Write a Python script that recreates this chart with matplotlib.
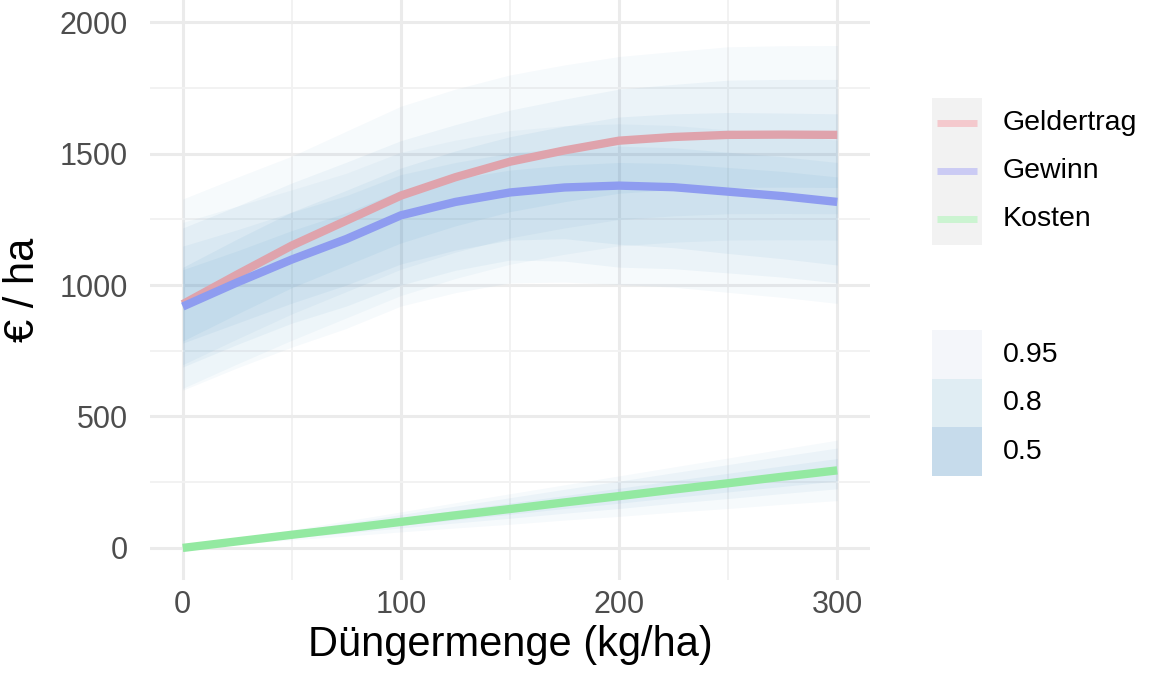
import matplotlib.pyplot as plt
from matplotlib.patches import Rectangle

plt.rcParams['font.family'] = ['Liberation Sans', 'DejaVu Sans']

# fertiliser amount (kg/ha)
duenger = [0, 25, 50, 75, 100, 125, 150, 175, 200, 225, 250, 275, 300]

# median lines (EUR / ha)
geldertrag = [927, 1040, 1150, 1245, 1340, 1410, 1469, 1512, 1549, 1563, 1571, 1572, 1571]
gewinn     = [918, 1010, 1097, 1175, 1265, 1316, 1352, 1371, 1378, 1372, 1355, 1338, 1316]
kosten     = [0, 25, 50, 74, 99, 124, 148, 173, 197, 222, 246, 271, 295]

# interval bounds (0.95 / 0.8 / 0.5)
geld_95_lo = [607, 700, 790, 875, 960, 1025, 1079, 1117, 1149, 1163, 1171, 1172, 1171]
geld_95_hi = [1327, 1410, 1490, 1585, 1680, 1745, 1799, 1837, 1869, 1888, 1906, 1910, 1911]
geld_80_lo = [697, 795, 890, 975, 1060, 1125, 1179, 1217, 1249, 1263, 1271, 1272, 1271]
geld_80_hi = [1217, 1300, 1388, 1467, 1549, 1610, 1665, 1707, 1745, 1763, 1779, 1782, 1782]
geld_50_lo = [787, 890, 990, 1075, 1160, 1225, 1279, 1317, 1349, 1363, 1371, 1372, 1371]
geld_50_hi = [1067, 1175, 1278, 1360, 1445, 1510, 1564, 1604, 1639, 1651, 1656, 1654, 1651]

gew_95_lo = [600, 685, 764, 835, 920, 971, 1008, 1011, 1002, 992, 972, 953, 930]
gew_95_hi = [1238, 1300, 1362, 1425, 1505, 1551, 1587, 1606, 1613, 1607, 1590, 1573, 1551]
gew_80_lo = [688, 774, 855, 920, 1000, 1056, 1095, 1091, 1068, 1062, 1046, 1030, 1008]
gew_80_hi = [1148, 1210, 1277, 1340, 1420, 1466, 1502, 1521, 1528, 1522, 1505, 1488, 1466]
gew_50_lo = [779, 855, 931, 1000, 1080, 1133, 1171, 1176, 1155, 1142, 1120, 1100, 1076]
gew_50_hi = [1058, 1130, 1207, 1275, 1360, 1404, 1437, 1456, 1466, 1462, 1447, 1432, 1411]

kost_95_lo = [0, 15, 31, 45, 61, 76, 90, 106, 120, 136, 150, 166, 180]
kost_95_hi = [0, 35, 69, 103, 137, 172, 206, 240, 274, 308, 342, 376, 410]
kost_80_lo = [0, 19, 38, 57, 76, 95, 113, 132, 150, 170, 188, 207, 225]
kost_80_hi = [0, 32, 64, 95, 127, 159, 191, 223, 254, 286, 317, 349, 380]
kost_50_lo = [0, 22, 43, 64, 86, 107, 128, 150, 170, 192, 213, 234, 255]
kost_50_hi = [0, 29, 58, 85, 114, 143, 171, 199, 227, 256, 284, 312, 340]

serien = ['Geldertrag', 'Gewinn', 'Kosten']
linien_farben = ['#dfa3ac', '#8e9cf0', '#93e9a1']
legende_farben = ['#f4c9cd', '#cbcbf4', '#cbf4d1']
intervalle = ['0.95', '0.8', '0.5']
intervall_alpha = [0.045, 0.06, 0.068]
intervall_legende = ['#f4f6fa', '#e0edf3', '#c6dbeb']

baender = [
    [(geld_95_lo, geld_95_hi), (geld_80_lo, geld_80_hi), (geld_50_lo, geld_50_hi)],
    [(gew_95_lo, gew_95_hi), (gew_80_lo, gew_80_hi), (gew_50_lo, gew_50_hi)],
    [(kost_95_lo, kost_95_hi), (kost_80_lo, kost_80_hi), (kost_50_lo, kost_50_hi)],
]
mitten = [geldertrag, gewinn, kosten]

W, H = 1165, 678
fig = plt.figure(figsize=(W / 100, H / 100), dpi=100)
ax = fig.add_axes([150 / W, 1 - 580 / H, 720 / W, 580 / H])

for serie in baender:
    for (lo, hi), a in zip(serie, intervall_alpha):
        ax.fill_between(duenger, lo, hi, color='#3b8cc2', alpha=a, lw=0, zorder=2)

for y, c in zip(mitten, linien_farben):
    ax.plot(duenger, y, color=c, lw=6, solid_capstyle='butt', zorder=3)

ax.set_xlim(-15, 315)
ax.set_ylim(-122, 2084)
ax.set_xticks([0, 100, 200, 300])
ax.set_xticks([50, 150, 250], minor=True)
ax.set_yticks([0, 500, 1000, 1500, 2000])
ax.set_yticks([250, 750, 1250, 1750], minor=True)
ax.grid(which='major', color='#ebebeb', lw=2.2, zorder=0)
ax.grid(which='minor', color='#f2f2f2', lw=1.4, zorder=0)
ax.set_axisbelow(True)
for s in ax.spines.values():
    s.set_visible(False)
ax.tick_params(which='both', length=0)
ax.tick_params(axis='y', labelsize=22, labelcolor='#4d4d4d', pad=16)
ax.tick_params(axis='x', labelsize=22, labelcolor='#4d4d4d', pad=7)
ax.set_xlabel('Düngermenge (kg/ha)', fontsize=30, labelpad=4)
ax.set_ylabel('€ / ha', fontsize=30, labelpad=12)

# legends drawn in pixel coordinates
lg = fig.add_axes([0, 0, 1, 1], zorder=5)
lg.set_xlim(0, W)
lg.set_ylim(H, 0)
lg.axis('off')

lg.add_patch(Rectangle((932, 98), 50, 147, color='#f2f2f2', lw=0))
for i, (name, c) in enumerate(zip(serien, legende_farben)):
    y = 123 + i * 48
    lg.plot([937, 977], [y, y], color=c, lw=5, solid_capstyle='butt')
    lg.text(1003, y, name, fontsize=20.5, va='center', ha='left')

for i, (name, c) in enumerate(zip(intervalle, intervall_legende)):
    y0 = 330 + i * 48.5
    lg.add_patch(Rectangle((932, y0), 50, 48.5, color=c, lw=0))
    lg.text(1003, y0 + 25, name, fontsize=20.5, va='center', ha='left')

fig.savefig('out.png', dpi=100)
